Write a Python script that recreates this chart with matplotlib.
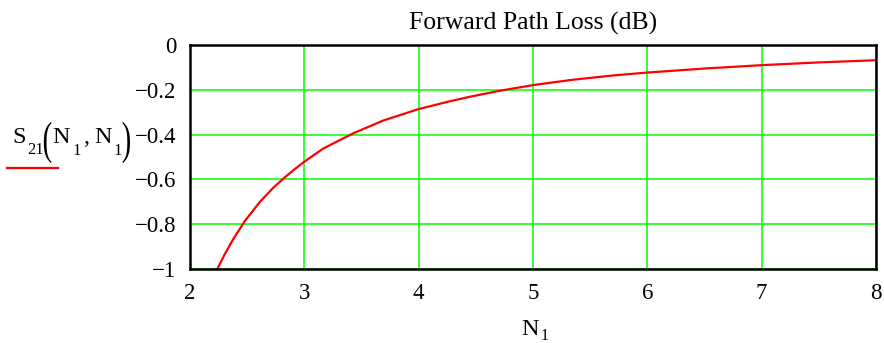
import matplotlib
matplotlib.use('Agg')
from matplotlib import pyplot as plt
from matplotlib.lines import Line2D
from matplotlib.textpath import TextPath
from matplotlib.patches import PathPatch
from matplotlib.font_manager import FontProperties
from matplotlib.transforms import Affine2D

plt.rcParams['font.family'] = ['Liberation Serif', 'DejaVu Serif']

W, H = 884, 343

# values
n1 = [2.239, 2.306, 2.379, 2.481, 2.612, 2.729, 2.822, 2.918, 3.0, 3.166,
      3.429, 3.691, 4.0, 4.274, 4.449, 4.712, 5.0, 5.35, 5.70, 6.0, 6.5,
      7.0, 7.49, 8.0]
s21 = [-1.0, -0.932, -0.866, -0.785, -0.700, -0.637, -0.594, -0.553, -0.521,
       -0.462, -0.394, -0.337, -0.286, -0.251, -0.231, -0.204, -0.179,
       -0.155, -0.136, -0.123, -0.105, -0.090, -0.078, -0.068]

xticks = [2, 3, 4, 5, 6, 7, 8]
yticks = [0, -0.2, -0.4, -0.6, -0.8, -1]
ytick_labels = ['0', '\u22120.2', '\u22120.4', '\u22120.6', '\u22120.8', '\u22121']


def ftext(x, y, s, size, **kw):
    # x, y in pixels of the picture (y down), y is the baseline
    fig.text(x / W, 1 - y / H, s, fontsize=size, va='baseline', **kw)


def paren(ch, x0, x1, y0, y1):
    # stretched bracket filling a pixel box
    tp = TextPath((0, 0), ch, size=1, prop=FontProperties(family='Liberation Serif'))
    ext = tp.get_extents()
    tr = (Affine2D().translate(-ext.x0, -ext.y0)
          .scale((x1 - x0) / ext.width, (y1 - y0) / ext.height)
          .translate(x0, H - y1))
    fig.add_artist(PathPatch(tr.transform_path(tp), transform=None,
                             fc='black', ec='none'))


fig = plt.figure(figsize=(W / 100, H / 100), dpi=100)
ax = fig.add_axes([190 / W, 1 - 269 / H, 686 / W, 224 / H])

ax.plot(n1, s21, color='#ff0000', lw=1.6)

ax.set_xlim(2, 8)
ax.set_ylim(-1, 0)
ax.set_xticks(xticks)
ax.set_xticklabels([str(t) for t in xticks])
ax.set_yticks(yticks)
ax.set_yticklabels(ytick_labels)
ax.tick_params(length=0, labelsize=16.5)
ax.tick_params(axis='x', pad=10)
ax.tick_params(axis='y', pad=10)
ax.grid(True, color='#00ff00', lw=1.1)
ax.set_axisbelow(True)
for sp in ax.spines.values():
    sp.set_linewidth(1.8)
    sp.set_color('black')

# title
fig.text(533 / W, 1 - 30 / H, 'Forward Path Loss (dB)', fontsize=18.5,
         ha='center', va='baseline')

# x label N1
ftext(521.0, 335, 'N', 17.5)
ftext(540.5, 340.0, '1', 11.5)

# y label S21(N1, N1)
ftext(12.2, 143.3, 'S', 17.5)
ftext(27.0, 154.3, '21', 12)
paren('(', 43.8, 51.2, 121.7, 163.3)
ftext(52.5, 143.3, 'N', 17.5)
ftext(72.5, 155, '1', 12)
ftext(83.5, 143.3, ',', 17.5)
ftext(94.5, 143.3, 'N', 17.5)
ftext(113.5, 155, '1', 12)
paren(')', 122.7, 130.0, 121.7, 163.3)
fig.add_artist(Line2D([7 / W, 58 / W], [1 - 168.5 / H, 1 - 168.5 / H],
                      color='#ff0000', lw=1.6))

fig.savefig('out.png', dpi=100)
